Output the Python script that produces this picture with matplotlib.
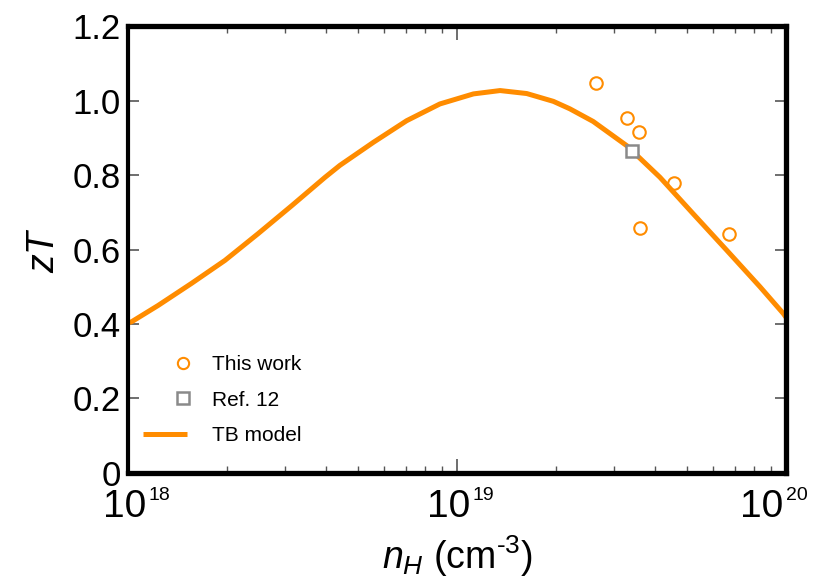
import numpy as np
import matplotlib
matplotlib.use("Agg")
import matplotlib.pyplot as plt
from matplotlib.ticker import FixedLocator, FixedFormatter, LogLocator, NullFormatter
from matplotlib.legend_handler import HandlerLine2D

plt.rcParams['font.family'] = ['Liberation Sans', 'DejaVu Sans']
plt.rcParams['mathtext.fontset'] = 'custom'
plt.rcParams['mathtext.rm'] = 'Liberation Sans'
plt.rcParams['mathtext.it'] = 'Liberation Sans:italic'
plt.rcParams['mathtext.default'] = 'regular'

# Measured samples (Hall carrier concentration, cm^-3) and their zT
this_work_n = [2.65e19, 3.29e19, 3.57e19, 4.57e19, 3.60e19, 6.73e19]
this_work_zt = [1.046, 0.954, 0.915, 0.780, 0.659, 0.642]

ref12_n = [3.40e19]
ref12_zt = [0.866]

# Two-band model curve (log10 of n_H, zT)
model_log_n = [18.0, 18.011, 18.092, 18.193, 18.295, 18.396, 18.498, 18.599,
               18.644, 18.746, 18.847, 18.948, 19.050, 19.131, 19.212, 19.293,
               19.343, 19.414, 19.516, 19.617, 19.718, 19.820, 19.921, 19.992, 20.0]
model_zt = [0.403, 0.406, 0.450, 0.509, 0.571, 0.643, 0.718, 0.794,
            0.826, 0.888, 0.946, 0.991, 1.018, 1.027, 1.019, 0.998,
            0.978, 0.944, 0.879, 0.794, 0.696, 0.598, 0.500, 0.428, 0.418]
model_n = [10 ** v for v in model_log_n]

yticks = [0, 0.2, 0.4, 0.6, 0.8, 1.0, 1.2]
ytick_labels = ['0', '0.2', '0.4', '0.6', '0.8', '1.0', '1.2']

xticks = [1e18, 1e19, 1e20]
xtick_exponents = ['18', '19', '20']
xtick_nudge_px = [7, 2, -14]   # horizontal nudge of each decade label

orange = '#FF8C00'
gray = '#8a8a8a'


class HandlerRightMarker(HandlerLine2D):
    """Legend handler that puts a single marker at the right end of the handle."""
    def get_xdata(self, legend, xdescent, ydescent, width, height, fontsize):
        xm = width - xdescent - 3.0
        # the single marker is drawn at the middle of three points
        return np.array([xm - 1.0, xm + 1.0]), np.array([xm])


fig = plt.figure(figsize=(8.23, 5.81), dpi=100)
ax = fig.add_axes([0.1555, 0.186, 0.7995, 0.769])

line_tb, = ax.plot(model_n, model_zt, color=orange, lw=3.6, label='TB model',
                   zorder=2, solid_capstyle='butt', solid_joinstyle='round')
pts_tw, = ax.plot(this_work_n, this_work_zt, ls='none', marker='o', ms=9, mfc='none',
                  mec=orange, mew=1.5, label='This work', zorder=3)
pts_ref, = ax.plot(ref12_n, ref12_zt, ls='none', marker='s', ms=9, mfc='white',
                   mec=gray, mew=1.8, label='Ref. 12', zorder=4)

ax.set_xscale('log')
ax.set_xlim(1e18, 1e20)
ax.set_ylim(0, 1.2)

ax.yaxis.set_major_locator(FixedLocator(yticks))
ax.yaxis.set_major_formatter(FixedFormatter(ytick_labels))
ax.xaxis.set_major_locator(FixedLocator(xticks))
ax.xaxis.set_minor_locator(LogLocator(base=10, subs=np.arange(2, 10), numticks=10))
ax.xaxis.set_minor_formatter(NullFormatter())

ax.tick_params(axis='both', which='both', direction='in', color='#555555',
               top=True, right=True)
ax.tick_params(axis='y', which='major', length=8, width=1.2, labelsize=25, pad=5)
ax.tick_params(axis='x', which='major', length=10, width=1.2, labelbottom=False)
ax.tick_params(axis='x', which='minor', length=5, width=1.0)

# decade labels: large "10" with a small raised exponent
for xv, ex, dx in zip(xticks, xtick_exponents, xtick_nudge_px):
    ax.annotate('10', xy=(xv, 0), xycoords=('data', 'axes fraction'),
                xytext=(dx + 11, -44), textcoords='offset pixels',
                ha='right', va='baseline', fontsize=28, annotation_clip=False)
    ax.annotate(ex, xy=(xv, 0), xycoords=('data', 'axes fraction'),
                xytext=(dx + 14, -14), textcoords='offset pixels',
                ha='left', va='top', fontsize=14, annotation_clip=False)

for side, sp in ax.spines.items():
    sp.set_color('black')
    sp.set_linewidth(3.0 if side == 'left' else 3.8)

ax.set_ylabel('$\\mathit{zT}$', fontsize=27, labelpad=8)
ax.set_xlabel('$\\mathit{n}_{\\mathit{H}}$ (cm$^{\\text{-}3}$)', fontsize=27)
ax.xaxis.set_label_coords(0.5, -0.135)
ax.xaxis.label.set_va('top')

leg = ax.legend([pts_tw, pts_ref, line_tb], ['This work', 'Ref. 12', 'TB model'],
                loc='lower left', bbox_to_anchor=(-0.005, 0.02), frameon=False,
                fontsize=15, handlelength=2.1, handletextpad=1.2, labelspacing=0.8,
                markerscale=0.9,
                handler_map={pts_tw: HandlerRightMarker(numpoints=1),
                             pts_ref: HandlerRightMarker(numpoints=1)})

fig.savefig('out.png', dpi=100)
